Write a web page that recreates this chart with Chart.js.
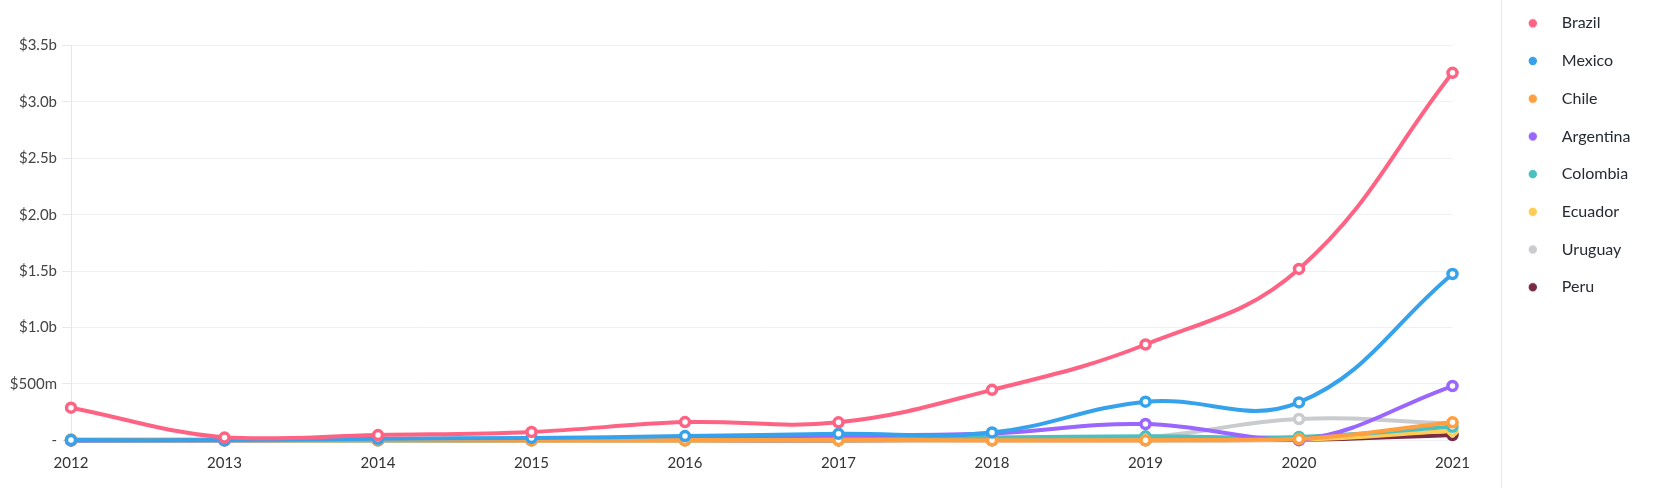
<!DOCTYPE html>
<html>
<head>
<meta charset="utf-8">
<script src="https://cdn.jsdelivr.net/npm/chart.js@4/dist/chart.umd.min.js"></script>
<style>
  html, body { margin: 0; padding: 0; background: #ffffff; }
  #wrap { position: relative; width: 1660px; height: 488px; }
</style>
</head>
<body>
<div id="wrap"><canvas id="chart"></canvas></div>
<script>
// ---- data (values in millions of US$) ----
const years = ['2012', '2013', '2014', '2015', '2016', '2017', '2018', '2019', '2020', '2021'];
const countries = ['Brazil', 'Mexico', 'Chile', 'Argentina', 'Colombia', 'Ecuador', 'Uruguay', 'Peru'];
const colors = ['#ff6384', '#36a2eb', '#ff9f40', '#9966ff', '#4bc0c0', '#ffcd56', '#c9cbcf', '#7a2b45'];

const brazil    = [290, 25, 47, 75, 162, 160, 448, 850, 1520, 3258];
const mexico    = [3, 3, 15, 22, 38, 58, 70, 343, 337, 1475];
const chile     = [8, 8, 5, 5, 3, 4, 2, 2, 12, 160];
const argentina = [0, 1, 5, 10, 20, 45, 62, 145, 2, 482];
const colombia  = [0, 1, 2, 3, 5, 12, 25, 36, 30, 121];
const ecuador   = [0, 0, 0, 0, 0, 1, 1, 2, 5, 86];
const uruguay   = [0, 0, 0, 1, 2, 4, 10, 28, 190, 150];
const peru      = [0, 0, 0, 0, 0, 0, 1, 1, 3, 48];

const seriesValues = [brazil, mexico, chile, argentina, colombia, ecuador, uruguay, peru];

const yMax = 3500;
const yStep = 500;

function formatMoney(v) {
  if (v === 0) return '-';
  if (v < 1000) return '$' + v + 'm';
  return '$' + (v / 1000).toFixed(1) + 'b';
}

// ---- layout constants ----
const LEGEND_TOP = -6.4;
const LEGEND_WIDTH = 207.5;
const SEPARATOR_X = 1501.5;

function legendDot(color) {
  const c = document.createElement('canvas');
  c.width = 50; c.height = 12;
  const g = c.getContext('2d');
  g.fillStyle = color;
  g.beginPath();
  g.arc(43.8, 6, 4.2, 0, Math.PI * 2);
  g.fill();
  return c;
}

const framePlugin = {
  id: 'frame',
  beforeLayout(chart) {
    const lg = chart.legend;
    if (lg && !lg.__fixedWidth) {
      const origFit = lg.fit;
      lg.fit = function () { origFit.call(this); this.width = LEGEND_WIDTH; };
      lg.__fixedWidth = true;
    }
  },
  afterLayout(chart) {
    if (chart.legend) chart.legend.top = LEGEND_TOP;
  },
  afterDraw(chart) {
    const ctx = chart.ctx;
    ctx.save();
    ctx.strokeStyle = '#e6e8ec';
    ctx.lineWidth = 1;
    ctx.beginPath();
    ctx.moveTo(SEPARATOR_X, 0);
    ctx.lineTo(SEPARATOR_X, chart.height);
    ctx.stroke();
    ctx.restore();
  }
};

const datasets = countries.map((name, i) => ({
  label: name,
  data: seriesValues[i],
  borderColor: colors[i],
  backgroundColor: colors[i],
  borderWidth: 4,
  tension: 0.4,
  pointRadius: 4.5,
  pointBorderWidth: 3.5,
  pointBackgroundColor: '#ffffff',
  pointBorderColor: colors[i],
  pointHoverRadius: 4.5,
  clip: false,
  fill: false
}));

new Chart(document.getElementById('chart'), {
  type: 'line',
  data: { labels: years, datasets },
  plugins: [framePlugin],
  options: {
    responsive: true,
    maintainAspectRatio: false,
    animation: false,
    layout: { padding: { left: 0, right: 0, top: 45.5, bottom: 0 } },
    plugins: {
      tooltip: { enabled: false },
      legend: {
        position: 'right',
        align: 'start',
        labels: {
          usePointStyle: true,
          pointStyleWidth: 79.6,
          padding: 21.7,
          color: '#262a33',
          font: { family: 'Lato', size: 16 },
          generateLabels(chart) {
            const items = Chart.defaults.plugins.legend.labels.generateLabels(chart);
            items.forEach(it => { it.pointStyle = legendDot(colors[it.datasetIndex]); });
            return items;
          }
        }
      }
    },
    scales: {
      x: {
        grid: { display: false, drawTicks: false },
        border: { display: false },
        ticks: {
          color: '#333333',
          font: { family: 'Lato', size: 15 },
          padding: 14,
          maxRotation: 0,
          autoSkip: false
        },
        afterFit(s) { s.height = 47.6; }
      },
      y: {
        min: 0,
        max: yMax,
        grid: { color: '#eef0f4', tickLength: 9, tickColor: '#e6e8ee' },
        border: { display: true, color: '#e3e6ec' },
        ticks: {
          stepSize: yStep,
          padding: 5,
          color: '#444444',
          font: { family: 'Lato', size: 15 },
          callback: (v) => formatMoney(v)
        },
        afterFit(s) { s.width = 71; }
      }
    }
  }
});
</script>
</body>
</html>
